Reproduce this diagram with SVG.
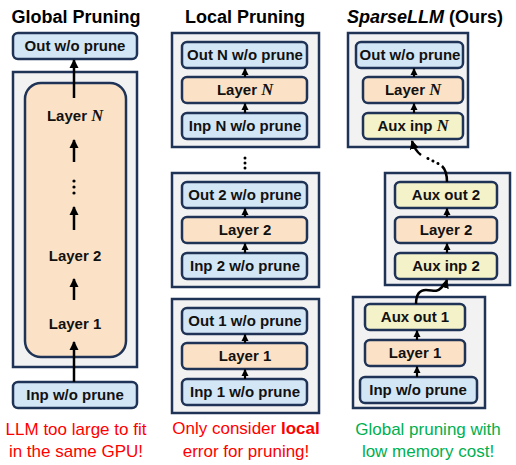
<svg xmlns="http://www.w3.org/2000/svg" width="516" height="465" viewBox="0 0 516 465">
<defs>
<style>
.title{font-family:"Liberation Sans",Arial,sans-serif;font-weight:bold;font-size:18px;fill:#000;text-anchor:middle}
.lbl{font-family:"Liberation Sans",Arial,sans-serif;font-weight:bold;font-size:15px;fill:#111;text-anchor:middle}
.ital{font-family:"Liberation Serif","Times New Roman",serif;font-style:italic;font-weight:bold;font-size:16.5px}
.note{font-family:"Liberation Sans",Arial,sans-serif;font-size:17px;text-anchor:middle}
.cont{fill:#F2F2F2;stroke:#1F3357;stroke-width:2.5}
.blue{fill:#D3E6F5;stroke:#1F3357;stroke-width:2.5}
.peach{fill:#FBE2C6;stroke:#1F3357;stroke-width:2.5}
.yel{fill:#F3F2C9;stroke:#1F3357;stroke-width:2.5}
.arr{stroke:#000;stroke-width:2.5;fill:none}
.sarr{stroke:#000;stroke-width:2.2;fill:none}
</style>
<marker id="ah" markerUnits="userSpaceOnUse" markerWidth="10" markerHeight="10" viewBox="0 0 10 10" refX="8" refY="5" orient="auto">
<path d="M0,0.5 L9,5 L0,9.5 z" fill="#000"/>
</marker>
<marker id="sh" markerUnits="userSpaceOnUse" markerWidth="8" markerHeight="8" viewBox="0 0 8 8" refX="6.5" refY="4" orient="auto">
<path d="M0,0.5 L7,4 L0,7.5 z" fill="#000"/>
</marker>
</defs>

<!-- Titles -->
<text class="title" x="76" y="23">Global Pruning</text>
<text class="title" x="245" y="23">Local Pruning</text>
<text class="title" x="425" y="23"><tspan font-style="italic">SparseLLM</tspan> (Ours)</text>

<!-- Panel 1: Global -->
<g id="g-container"><rect class="cont" x="13" y="72" width="124" height="295"/></g>
<g id="g-layers">
<rect class="peach" x="25" y="83" width="101" height="274" rx="16"/>
<text class="lbl" x="75" y="121">Layer <tspan class="ital">N</tspan></text>
<text class="lbl" x="75" y="261">Layer 2</text>
<text class="lbl" x="75" y="329">Layer 1</text>
<circle cx="74" cy="181" r="1.6" fill="#000"/>
<circle cx="74" cy="187" r="1.6" fill="#000"/>
<circle cx="74" cy="193" r="1.6" fill="#000"/>
</g>
<g id="g-out"><rect class="blue" x="13" y="33" width="124" height="26" rx="5"/><text class="lbl" x="75" y="51">Out w/o prune</text></g>
<g id="g-inp"><rect class="blue" x="13" y="382" width="124" height="26" rx="5"/><text class="lbl" x="75" y="400">Inp w/o prune</text></g>
<text class="note" x="76" y="435" fill="#FF0000">LLM too large to fit</text>
<text class="note" x="76" y="457" fill="#FF0000">in the same GPU!</text>

<!-- Panel 2: Local -->
<g id="l-blockN">
<rect class="cont" x="172" y="33" width="147" height="114"/>
<rect class="blue" x="182" y="42" width="125" height="26" rx="5"/><text class="lbl" x="245" y="60">Out N w/o prune</text>
<rect class="peach" x="182" y="77" width="125" height="26" rx="5"/><text class="lbl" x="245" y="95">Layer <tspan class="ital">N</tspan></text>
<rect class="blue" x="182" y="113" width="125" height="26" rx="5"/><text class="lbl" x="245" y="131">Inp N w/o prune</text>
</g>
<g id="l-dots">
<circle cx="245" cy="158" r="1.5" fill="#000"/>
<circle cx="245" cy="163" r="1.5" fill="#000"/>
<circle cx="245" cy="168" r="1.5" fill="#000"/>
</g>
<g id="l-block2">
<rect class="cont" x="172" y="173" width="147" height="114"/>
<rect class="blue" x="182" y="182" width="125" height="26" rx="5"/><text class="lbl" x="245" y="200">Out 2 w/o prune</text>
<rect class="peach" x="182" y="217" width="125" height="26" rx="5"/><text class="lbl" x="245" y="235">Layer 2</text>
<rect class="blue" x="182" y="253" width="125" height="26" rx="5"/><text class="lbl" x="245" y="271">Inp 2 w/o prune</text>
</g>
<g id="l-block1">
<rect class="cont" x="172" y="299" width="147" height="114"/>
<rect class="blue" x="182" y="308" width="125" height="26" rx="5"/><text class="lbl" x="245" y="326">Out 1 w/o prune</text>
<rect class="peach" x="182" y="343" width="125" height="26" rx="5"/><text class="lbl" x="245" y="361">Layer 1</text>
<rect class="blue" x="182" y="379" width="125" height="26" rx="5"/><text class="lbl" x="245" y="397">Inp 1 w/o prune</text>
</g>
<text class="note" x="246" y="434" fill="#FF0000">Only consider <tspan font-weight="bold">local</tspan></text>
<text class="note" x="246" y="457" fill="#FF0000">error for pruning!</text>

<!-- Panel 3: SparseLLM -->
<g id="s-blockN">
<rect class="cont" x="348" y="33" width="120" height="114"/>
<rect class="blue" x="356" y="42" width="107" height="26" rx="5"/><text class="lbl" x="410" y="60">Out w/o prune</text>
<rect class="peach" x="363" y="77" width="100" height="26" rx="5"/><text class="lbl" x="413" y="95">Layer <tspan class="ital">N</tspan></text>
<rect class="yel" x="363" y="113" width="100" height="26" rx="5"/><text class="lbl" x="413" y="131">Aux inp <tspan class="ital">N</tspan></text>
</g>
<g id="s-block2">
<rect class="cont" x="385" y="173" width="125" height="112"/>
<rect class="yel" x="395" y="182" width="102" height="26" rx="5"/><text class="lbl" x="446" y="200">Aux out 2</text>
<rect class="peach" x="395" y="217" width="102" height="26" rx="5"/><text class="lbl" x="446" y="235">Layer 2</text>
<rect class="yel" x="395" y="253" width="102" height="26" rx="5"/><text class="lbl" x="446" y="271">Aux inp 2</text>
</g>
<g id="s-block1">
<rect class="cont" x="353" y="297" width="132" height="111"/>
<rect class="yel" x="365" y="304" width="100" height="26" rx="5"/><text class="lbl" x="415" y="322">Aux out 1</text>
<rect class="peach" x="365" y="340" width="100" height="26" rx="5"/><text class="lbl" x="415" y="358">Layer 1</text>
<rect class="blue" x="360" y="377" width="117" height="26" rx="5"/><text class="lbl" x="418" y="395">Inp w/o prune</text>
</g>
<text class="note" x="428" y="435" fill="#00B050">Global pruning with</text>
<text class="note" x="428" y="457" fill="#00B050">low memory cost!</text>

<!-- Connectors -->
<g id="connectors">
<line class="arr" x1="74" y1="98" x2="74" y2="60" marker-end="url(#ah)"/>
<line class="arr" x1="74" y1="162" x2="74" y2="140" marker-end="url(#ah)"/>
<line class="arr" x1="74" y1="230" x2="74" y2="207" marker-end="url(#ah)"/>
<line class="arr" x1="74" y1="300" x2="74" y2="279" marker-end="url(#ah)"/>
<line class="arr" x1="74" y1="382" x2="74" y2="342" marker-end="url(#ah)"/>

<line class="sarr" x1="245" y1="77" x2="245" y2="68.5" marker-end="url(#sh)"/>
<line class="sarr" x1="245" y1="113" x2="245" y2="103.5" marker-end="url(#sh)"/>
<line class="sarr" x1="245" y1="217" x2="245" y2="208.5" marker-end="url(#sh)"/>
<line class="sarr" x1="245" y1="253" x2="245" y2="243.5" marker-end="url(#sh)"/>
<line class="sarr" x1="245" y1="343" x2="245" y2="334.5" marker-end="url(#sh)"/>
<line class="sarr" x1="245" y1="379" x2="245" y2="369.5" marker-end="url(#sh)"/>

<line class="sarr" x1="414" y1="77" x2="414" y2="68.5" marker-end="url(#sh)"/>
<line class="sarr" x1="414" y1="113" x2="414" y2="103.5" marker-end="url(#sh)"/>
<line class="sarr" x1="447" y1="217" x2="447" y2="208.5" marker-end="url(#sh)"/>
<line class="sarr" x1="447" y1="253" x2="447" y2="243.5" marker-end="url(#sh)"/>
<line class="sarr" x1="417" y1="340" x2="417" y2="330.5" marker-end="url(#sh)"/>
<line class="sarr" x1="417" y1="377" x2="417" y2="366.5" marker-end="url(#sh)"/>

<path class="arr" d="M416,304 C416,295 419,290 426,290 C433,290 436,293 441,288 C444,285 446,283 447,280" marker-end="url(#ah)"/>
<path class="arr" d="M447,182 C447,176 446,170 442,166"/>
<path d="M438,163.5 L425,157" stroke="#000" stroke-width="3" stroke-linecap="round" stroke-dasharray="0.1 5.5" fill="none"/>
<path class="arr" d="M421,155 C417,152 414,148 412,141" marker-end="url(#ah)"/>
</g>
</svg>
